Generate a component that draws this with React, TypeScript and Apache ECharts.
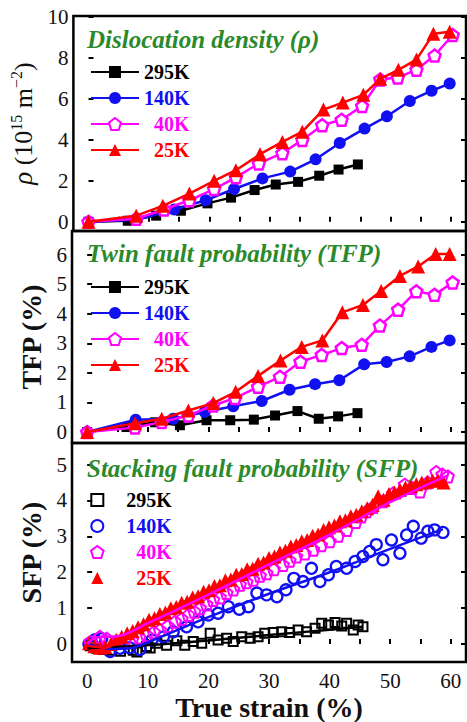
import React, { useEffect, useRef } from 'react';
import * as echarts from 'echarts';

type P = [number, number];

// ---------- Panel 1: dislocation density rho (10^15 m^-2) ----------
const rho295: P[] = [[0,0],[6.5,0.05],[11.2,0.3],[15.3,0.54],[19.7,0.9],[23.6,1.18],[27.5,1.55],[31,1.82],[34.7,1.95],[38.2,2.25],[41.4,2.55],[44.6,2.8]];
const rho140: P[] = [[0,0],[8,0.1],[14.2,0.6],[19.4,1.05],[24.1,1.6],[28.8,2.12],[33.4,2.45],[37.6,3.05],[41.6,3.85],[45.7,4.55],[49.4,5.15],[53.2,5.9],[56.8,6.4],[59.8,6.75]];
const rho40: P[] = [[0,0],[7.9,0.15],[12.5,0.6],[16.7,1.05],[20.8,1.6],[24.4,2.17],[28.2,2.85],[32.1,3.35],[35.4,4.0],[38.7,4.72],[41.9,4.98],[45.3,5.65],[48.3,6.95],[51.2,7.05],[54.3,7.42],[57.3,8.12],[60.3,9.12]];
const rho25: P[] = [[0,0],[7.9,0.3],[12.3,0.78],[16.7,1.38],[20.8,2.0],[24.4,2.52],[28.4,3.3],[32.1,3.9],[35.4,4.4],[38.9,5.48],[42.1,5.82],[45.5,6.2],[48.3,6.98],[51.3,7.42],[54.3,7.92],[57.1,9.18],[59.8,9.28]];

// ---------- Panel 2: twin fault probability TFP (%) ----------
const tfp295: P[] = [[0,0],[6.5,0.17],[11.2,0.33],[15.3,0.23],[19.7,0.4],[23.6,0.4],[27.5,0.42],[31,0.56],[34.7,0.71],[38.2,0.45],[41.4,0.53],[44.6,0.64]];
const tfp140: P[] = [[0,0],[8,0.42],[14.2,0.45],[19.4,0.68],[24.1,0.87],[28.8,1.05],[33.4,1.43],[37.6,1.62],[41.6,1.75],[45.7,2.29],[49.4,2.37],[53.2,2.56],[56.8,2.88],[59.8,3.1]];
const tfp40: P[] = [[0,0],[7.9,0.15],[12.3,0.34],[16.7,0.56],[20.8,0.9],[24.4,1.15],[28.2,1.53],[31.8,1.87],[35.2,2.38],[38.7,2.61],[42,2.84],[45.3,2.95],[48.3,3.6],[51.3,4.14],[54.3,4.76],[57.3,4.64],[60.3,5.06]];
const tfp25: P[] = [[0,0],[7.9,0.3],[12.3,0.45],[16.7,0.73],[20.8,0.98],[24.5,1.36],[28.2,1.9],[31.9,2.42],[35.4,2.88],[38.8,3.1],[42.1,4.05],[45.5,4.3],[48.5,4.77],[51.6,5.28],[54.6,5.6],[57.5,6.02],[59.8,6.02]];

// ---------- Panel 3: stacking fault probability SFP (%) ----------
const sfp295: P[] = [[0.5,-0.05],[1.6,-0.12],[2.6,-0.15],[3.8,-0.17],[5.5,-0.2],[7.6,-0.17],[8.2,-0.22],[9.8,-0.07],[10.4,-0.11],[11.5,0.02],[13.1,-0.03],[14.8,0.09],[16.1,-0.03],[17.5,0.07],[18.9,0.02],[20.3,0.3],[21.6,0.11],[23,0.16],[24.1,0.07],[25.5,0.2],[26.9,0.16],[28.2,0.2],[29.3,0.3],[30.7,0.32],[32.1,0.34],[33.4,0.32],[34.8,0.39],[36.2,0.34],[37.6,0.44],[38.7,0.58],[39.8,0.53],[40.9,0.6],[42,0.5],[42.8,0.58],[43.9,0.39],[44.7,0.53],[45.5,0.48]];
const sfp140: P[] = [[0.3,0.0],[1.3,0.12],[2.4,0.15],[3.8,-0.21],[5.4,-0.12],[7.0,-0.1],[8.7,-0.15],[10.7,0.11],[12.6,0.2],[14.2,0.34],[16.4,0.48],[18.3,0.62],[20,0.81],[21.6,0.86],[23.3,1.04],[25.1,0.97],[26.6,1.04],[28,1.42],[29.6,1.37],[31.3,1.32],[32.8,1.51],[34.1,1.83],[35.6,1.74],[37,2.11],[38.4,1.74],[39.8,1.93],[41.1,2.16],[42.8,2.11],[44.2,2.3],[45.5,2.44],[46.6,2.58],[47.7,2.77],[48.8,2.35],[50.2,2.9],[51.6,2.53],[52.7,3.04],[53.8,3.28],[55.1,2.95],[56.2,3.14],[57.3,3.18],[58.7,3.11]];
const sfp40: P[] = [[0.5,0.06],[2.1,0.2],[3.2,0.15],[4.9,0.07],[6.2,0.1],[7.4,0.11],[8.6,0.18],[9.8,0.25],[11,0.33],[12,0.39],[13.3,0.5],[14.5,0.62],[15.6,0.7],[16.7,0.81],[17.7,0.9],[18.6,1.0],[19.7,1.1],[20.8,1.23],[21.9,1.3],[23,1.42],[24.1,1.52],[25.2,1.65],[26.3,1.72],[27.4,1.79],[28.5,1.9],[29.6,1.97],[30.8,2.08],[32.3,2.2],[33.4,2.32],[34.5,2.44],[35.9,2.52],[37.3,2.63],[38.6,2.75],[40,2.86],[41.4,3.02],[42.8,3.18],[44.3,3.4],[45.2,3.55],[46.1,3.7],[47.2,3.82],[48.8,3.98],[50.5,4.2],[52.4,4.44],[53.6,4.35],[54.9,4.25],[56.2,4.5],[57.6,4.79],[58.6,4.72],[59.5,4.67]];
const sfp25: P[] = [[0.3,0.02],[1.2,-0.06],[2.1,-0.1],[3.0,-0.08],[3.9,0.0],[4.8,0.12],[5.7,0.2],[6.6,0.3],[7.5,0.36],[8.4,0.47],[9.3,0.55],[10.2,0.68],[11.1,0.72],[12.0,0.84],[12.9,0.88],[13.8,1.0],[14.7,1.03],[15.6,1.15],[16.5,1.18],[17.4,1.3],[18.3,1.33],[19.2,1.46],[20.1,1.5],[21.0,1.62],[21.9,1.64],[22.8,1.78],[23.7,1.8],[24.6,1.93],[25.5,1.95],[26.4,2.08],[27.3,2.1],[28.2,2.24],[29.1,2.27],[30.0,2.4],[30.9,2.44],[31.8,2.55],[32.7,2.6],[33.6,2.72],[34.5,2.76],[35.4,2.86],[36.3,2.9],[37.2,3.02],[38.1,3.05],[39.0,3.18],[39.9,3.25],[40.8,3.3],[41.7,3.42],[42.6,3.45],[43.5,3.56],[44.4,3.6],[45.3,3.7],[46.2,3.78],[47.1,3.88],[48.0,4.12],[48.9,4.02],[49.8,4.18],[50.7,4.22],[51.6,4.3],[52.5,4.36],[53.4,4.4],[54.3,4.45],[55.2,4.5],[56.1,4.52],[57.0,4.55],[57.9,4.56],[58.8,4.5]];

// fitted trend lines (panel 3)
const fit295: P[] = [[0,-0.12],[10,-0.03],[20,0.1],[30,0.25],[40,0.4],[45.5,0.48]];
const fit140: P[] = [[0,0],[2,-0.08],[4,-0.14],[7,-0.12],[10,0.05],[20,0.75],[30,1.4],[40,2.0],[50,2.65],[58.7,3.2]];
const fit40: P[] = [[0,0],[1.5,0.18],[3,0.2],[5,0.22],[10,0.58],[20,1.38],[30,2.22],[40,3.05],[50,3.95],[59.5,4.7]];
const fit25: P[] = [[0,-0.05],[3,-0.1],[6,0.2],[10,0.65],[20,1.52],[30,2.4],[40,3.25],[50,4.1],[58.8,4.58]];

// ---------- axes ----------
const xTicks = [0, 5, 10, 15, 20, 25, 30, 35, 40, 45, 50, 55, 60];
const xLabels = [0, 10, 20, 30, 40, 50, 60];
const yTicksRho = [0, 2, 4, 6, 8, 10];
const yTicksTfp = [0, 1, 2, 3, 4, 5, 6];
const yTicksSfp = [0, 1, 2, 3, 4, 5];
const temps = ['295K', '140K', '40K', '25K'];
const titles = ['Dislocation density (\u03c1)', 'Twin fault probability (TFP)', 'Stacking fault probability (SFP)'];

const FONT = '"Liberation Serif", "Times New Roman", serif';
const COLORS = ['#000000', '#1010f0', '#ff00ff', '#ff0000'];
const PENTAGON = 'path://M50,0 L97.55,34.55 L79.39,90.45 L20.61,90.45 L2.45,34.55 Z';
const SQUARE = 'path://M0,0 L100,0 L100,100 L0,100 Z';
const TRIANGLE = 'path://M50,0 L100,100 L0,100 Z';

export default function App() {
  const ref = useRef<HTMLDivElement>(null);
  useEffect(() => {
    if (!ref.current) return;
    const chart = echarts.init(ref.current, null, { renderer: 'svg' });

    const gridDefs = [
      { top: 16, height: 215 },
      { top: 231, height: 212 },
      { top: 443, height: 219 },
    ];
    const yRanges = [
      { min: -0.45, max: 10.05, ticks: yTicksRho },
      { min: -0.37, max: 6.8, ticks: yTicksTfp },
      { min: -0.5, max: 5.6, ticks: yTicksSfp },
    ];

    const grid = gridDefs.map((g) => ({
      left: 72, right: 1, top: g.top, height: g.height,
      show: true, borderColor: '#000', borderWidth: 2.5, backgroundColor: 'transparent',
    }));

    const tickStyle = { inside: true, length: 5, lineStyle: { color: '#000', width: 2 } };

    const xAxis = [0, 1, 2].map((i) => ({
      type: 'value', gridIndex: i, min: -2.5, max: 62.5,
      axisLine: { show: false },
      axisTick: { ...tickStyle, customValues: xTicks },
      axisLabel: {
        show: i === 2, customValues: xLabels, fontFamily: FONT, fontSize: 21, color: '#111', margin: 8,
      },
      splitLine: { show: false },
      name: i === 2 ? 'True strain (%)' : '',
      nameLocation: 'middle', nameGap: 31,
      nameTextStyle: { fontFamily: FONT, fontSize: 28, fontWeight: 'bold', color: '#111' },
    }));

    const yNames = [
      '{i|\u03c1} {n|(10}{s|15}{n| m}{s|\u22122}{n|)}',
      'TFP (%)',
      'SFP (%)',
    ];

    const yAxisLeft = [0, 1, 2].map((i) => ({
      type: 'value', gridIndex: i, min: yRanges[i].min, max: yRanges[i].max,
      axisLine: { show: false },
      axisTick: { ...tickStyle, customValues: yRanges[i].ticks },
      axisLabel: { customValues: yRanges[i].ticks, fontFamily: FONT, fontSize: 21, color: '#111', margin: 5 },
      splitLine: { show: false },
      name: yNames[i], nameLocation: 'middle', nameGap: 26,
      nameTextStyle: i === 0
        ? {
            fontFamily: FONT, color: '#111', fontSize: 26,
            rich: {
              i: { fontFamily: FONT, fontStyle: 'italic', fontSize: 27, lineHeight: 30, color: '#111' },
              n: { fontFamily: FONT, fontSize: 26, lineHeight: 30, color: '#111' },
              s: { fontFamily: FONT, fontSize: 16, lineHeight: 16, verticalAlign: 'top', color: '#111' },
            },
          }
        : { fontFamily: FONT, fontSize: 28, fontWeight: 'bold', color: '#111' },
    }));
    const yAxisRight = [0, 1, 2].map((i) => ({
      type: 'value', gridIndex: i, position: 'right', min: yRanges[i].min, max: yRanges[i].max,
      axisLine: { show: false },
      axisTick: { ...tickStyle, customValues: yRanges[i].ticks },
      axisLabel: { show: false },
      splitLine: { show: false },
    }));

    const symbols = [SQUARE, 'circle', PENTAGON, TRIANGLE];
    const topSizes = [10, 12, 12, 14];
    const lineSeries = (prefix: string, idx: number, data: P[][]) =>
      data.map((d, k) => ({
        name: `${prefix} ${temps[k]}`,
        type: 'line', xAxisIndex: idx, yAxisIndex: idx, data: d,
        symbol: symbols[k], symbolSize: topSizes[k], showSymbol: true,
        lineStyle: { color: COLORS[k], width: 2.5 },
        itemStyle: k === 2
          ? { color: '#ffffff', borderColor: COLORS[k], borderWidth: 2.5 }
          : { color: COLORS[k], borderColor: COLORS[k], borderWidth: 0 },
        z: 2 + k,
      }));

    const bottomSizes = [9, 11, 12, 14];
    const sfpData = [sfp295, sfp140, sfp40, sfp25];
    const scatterSeries = sfpData.map((d, k) => ({
      name: `SFP ${temps[k]}`,
      type: 'scatter', xAxisIndex: 2, yAxisIndex: 2, data: d,
      symbol: symbols[k], symbolSize: bottomSizes[k],
      itemStyle: k === 3
        ? { color: COLORS[k], borderWidth: 0, opacity: 1 }
        : { color: 'rgba(255,255,255,0)', borderColor: COLORS[k], borderWidth: k === 1 ? 2.3 : 2, opacity: 1 },
      z: 2 + k,
    }));
    const fitData = [fit295, fit140, fit25, fit40];
    const fitColors = [COLORS[0], COLORS[1], COLORS[3], COLORS[2]];
    const fitSeries = fitData.map((d, k) => ({
      name: `fit${k}`,
      type: 'line', xAxisIndex: 2, yAxisIndex: 2, data: d, smooth: 0.4,
      symbol: 'none', lineStyle: { color: fitColors[k], width: 2.5 }, z: 10 + k,
    }));

    const legendFmt = (name: string) => {
      const t = name.split(' ')[1];
      return t.length === 3 ? '  ' + t : t;
    };
    const legend = [
      { prefix: '\u03c1', top: 62, h: 15 },
      { prefix: 'TFP', top: 277, h: 15 },
      { prefix: 'SFP', top: 490, h: 12 },
    ].map((l) => ({
      orient: 'vertical', left: 90, top: l.top, padding: 0,
      itemWidth: 48, itemHeight: l.h, itemGap: 6, selectedMode: false,
      formatter: legendFmt,
      textStyle: { fontFamily: FONT, fontSize: 20, fontWeight: 'bold', lineHeight: 20 },
      data: temps.map((t, k) => ({ name: `${l.prefix} ${t}`, textStyle: { color: COLORS[k] } })),
    }));

    const title = titles.map((t, i) => ({
      text: t, left: 87, top: [27, 241, 456][i], padding: 0,
      textStyle: { fontFamily: FONT, fontStyle: 'italic', fontWeight: 'bold', fontSize: 25, color: '#2b8a2b' },
    }));

    chart.setOption({
      animation: false,
      backgroundColor: '#ffffff',
      title,
      legend,
      grid,
      xAxis,
      yAxis: [...yAxisLeft, ...yAxisRight],
      series: [
        ...lineSeries('\u03c1', 0, [rho295, rho140, rho40, rho25]),
        ...lineSeries('TFP', 1, [tfp295, tfp140, tfp40, tfp25]),
        ...scatterSeries,
        ...fitSeries,
      ],
    } as any);

    return () => chart.dispose();
  }, []);

  return <div ref={ref} style={{ width: 467, height: 722, position: 'absolute', left: 0, top: 0 }} />;
}
